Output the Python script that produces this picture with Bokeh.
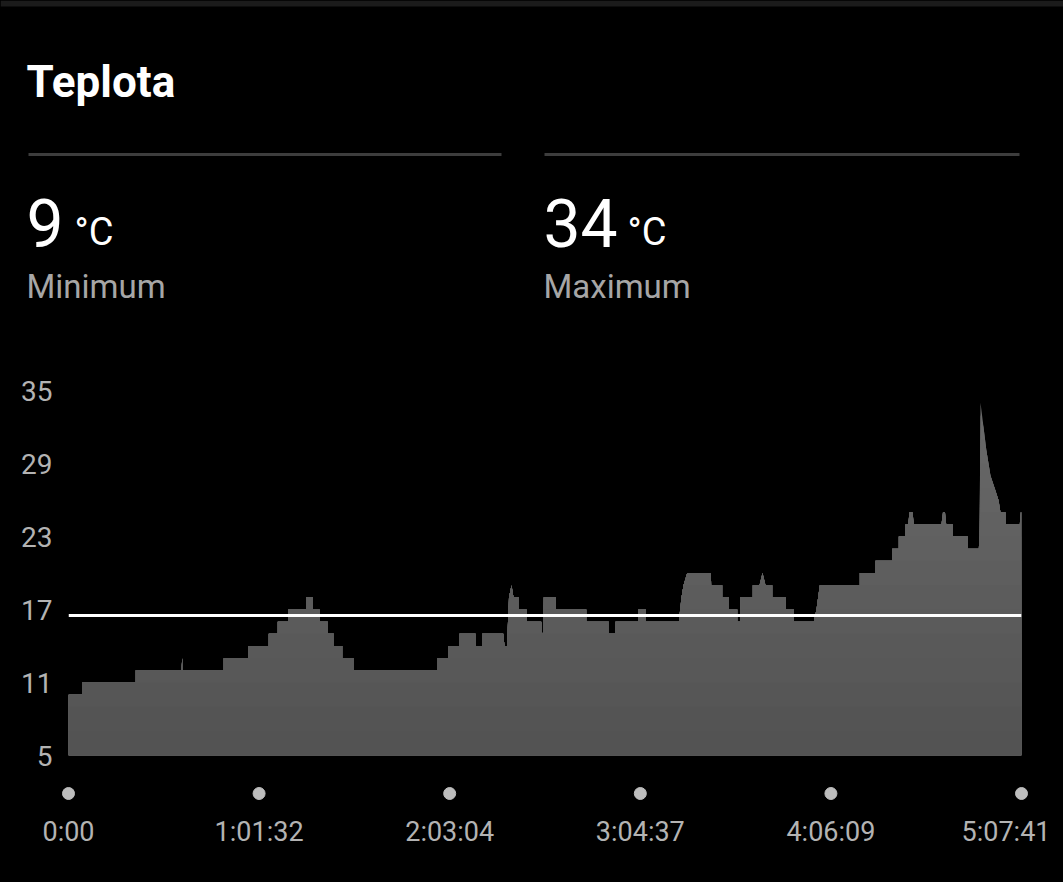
import numpy as np
from bokeh.plotting import figure
from bokeh.models import Range1d, FixedTicker, Span, ColumnDataSource
from bokeh.core.properties import value
from bokeh.embed import file_html
from bokeh.resources import INLINE

# ---------------- data ----------------
title_text = "Teplota"
unit = "°C"
min_temp = 9
max_temp = 34
min_label = "Minimum"
max_label = "Maximum"
avg_temp = 16.5

elapsed_s = [0, 265, 265, 1304, 1304, 2189, 2203, 2218, 3008, 3008, 3481, 3481, 3880, 3880,
             4054, 4054, 4256, 4256, 4605, 4605, 4727, 4727, 4862, 4862, 5023, 5023, 5139, 5139,
             5302, 5302, 5527, 5527, 7142, 7142, 7355, 7355, 7574, 7574, 7884, 7884, 8014, 8014,
             8421, 8446, 8494, 8533, 8582, 8620, 8717, 8717, 8872, 8872, 9157, 9176, 9196, 9207,
             9434, 9434, 10029, 10029, 10466, 10466, 10596, 10596, 11036, 11036, 11183, 11183,
             11823, 11875, 11914, 11985, 12442, 12450, 12663, 12663, 12791, 12791, 12954, 12954,
             13018, 13018, 13256, 13256, 13386, 13444, 13502, 13632, 13632, 13889, 13889, 14050,
             14050, 14438, 14490, 14554, 15329, 15329, 15633, 15633, 15956, 15956, 16084, 16084,
             16214, 16214, 16266, 16292, 16350, 16375, 16911, 16940, 16979, 17002, 17130, 17130,
             17421, 17421, 17634, 17648, 17667, 17725, 17783, 17860, 17938, 18015, 18054, 18151,
             18151, 18428, 18447, 18461]
temp_c = [10, 10, 11, 11, 12, 12, 13, 12, 12, 13, 13, 14, 14, 15,
          15, 16, 16, 17, 17, 18, 18, 17, 17, 16, 16, 15, 15, 14,
          14, 13, 13, 12, 12, 13, 13, 14, 14, 15, 15, 14, 14, 15,
          15, 14, 14, 18, 19, 18, 18, 17, 17, 16, 16, 15, 15, 18,
          18, 17, 17, 16, 16, 15, 15, 16, 16, 17, 17, 16,
          16, 18, 19, 20, 20, 19, 19, 18, 18, 17, 17, 16,
          16, 18, 18, 19, 19, 20, 19, 19, 18, 18, 17, 17,
          16, 16, 17, 19, 19, 20, 20, 21, 21, 22, 22, 23,
          23, 24, 24, 25, 25, 24, 24, 25, 25, 24, 24, 23,
          23, 22, 22, 23, 34, 32, 30, 28, 27, 26, 25, 25,
          24, 24, 25, 25]

y_ticks = [5, 11, 17, 23, 29, 35]
x_tick_s = [0, 3692, 7384, 11077, 14769, 18461]
x_tick_labels = ["0:00", "1:01:32", "2:03:04", "3:04:37", "4:06:09", "5:07:41"]

FONT = value("Roboto")
W = 1063
BG = "#000000"


def bare(fig):
    fig.grid.visible = False
    return fig


# ---------------- header (page y 0..350) ----------------
H1 = 350
hdr = bare(figure(width=W, height=H1, x_range=Range1d(0, W), y_range=Range1d(H1, 0),
                  toolbar_location=None, output_backend="svg", min_border=0,
                  x_axis_location=None, y_axis_location=None,
                  background_fill_color=BG, border_fill_color=BG, outline_line_color=None))

hdr.quad(left=[0], right=[W], top=[0], bottom=[6], fill_color="#1b1b1b", line_color=None)
hdr.text(x=[26], y=[81], text=[title_text], text_font=FONT, text_font_size="44px",
         text_font_style="bold", text_color="#ffffff", text_baseline="alphabetic")
hdr.segment(x0=[28, 544], y0=[154, 154], x1=[501, 1019], y1=[154, 154],
            line_color="#3d3d3d", line_width=3)
hdr.text(x=[26, 543], y=[222, 222], text=[str(min_temp), str(max_temp)], text_font=FONT,
         text_font_size="66px", text_color="#ffffff", text_baseline="alphabetic")
hdr.text(x=[74, 627], y=[231, 231], text=[unit, unit], text_font=FONT,
         text_font_size="38px", text_color="#ffffff", text_baseline="alphabetic")
hdr.text(x=[26, 543], y=[286, 286], text=[min_label, max_label], text_font=FONT,
         text_font_size="33px", text_color="#a6a6a6", text_baseline="alphabetic")

# ---------------- chart (page y 350..781) ----------------
ch = bare(figure(width=W, height=431, x_range=Range1d(0, 18461), y_range=Range1d(5, 35),
                 toolbar_location=None, output_backend="svg", x_axis_location=None,
                 min_border_left=68, min_border_right=42, min_border_top=40, min_border_bottom=26,
                 background_fill_color=BG, border_fill_color=BG, outline_line_color=None))

t = np.array(elapsed_s, dtype=float)
v = np.array(temp_c, dtype=float)
edges = np.arange(5, 36, 2)
for k in reversed(range(len(edges) - 1)):
    top = edges[k + 1]
    mid = 0.5 * (edges[k] + edges[k + 1])
    L = int(round(82 + (mid - 5) * 0.8))
    col = "#%02x%02x%02x" % (L, L, L)
    ch.varea(x=t, y1=np.full_like(v, 5.0), y2=np.minimum(v, top), fill_color=col)

ch.add_layout(Span(location=avg_temp, dimension="width", line_color="#ffffff", line_width=3))

ax = ch.yaxis[0]
ax.ticker = FixedTicker(ticks=y_ticks)
ax.axis_line_color = None
ax.major_tick_line_color = None
ax.minor_tick_line_color = None
ax.major_label_standoff = 10
ax.major_label_text_font = "Roboto"
ax.major_label_text_font_size = "28px"
ax.major_label_text_color = "#b3b3b3"

# ---------------- time axis strip (page y 781..882) ----------------
spp = 18461 / 953.0  # seconds per pixel of the chart frame
ft = bare(figure(width=W, height=101,
                 x_range=Range1d(-68 * spp, 18461 + 42 * spp), y_range=Range1d(101, 0),
                 toolbar_location=None, output_backend="svg", min_border=0,
                 x_axis_location=None, y_axis_location=None,
                 background_fill_color=BG, border_fill_color=BG, outline_line_color=None))

ft.scatter(x=x_tick_s, y=[12] * len(x_tick_s), size=12, color="#bdbdbd")
lab_src = ColumnDataSource(dict(
    x=x_tick_s, y=[50] * len(x_tick_s), text=x_tick_labels,
    align=["center"] * (len(x_tick_s) - 1) + ["right"],
    xo=[0] * (len(x_tick_s) - 1) + [29],
))
ft.text(x="x", y="y", text="text", text_align="align", x_offset="xo", source=lab_src,
        text_font=FONT, text_font_size="27px", text_color="#b3b3b3",
        text_baseline="alphabetic")

html = file_html([hdr, ch, ft], INLINE)
html = html.replace("</head>", "<style>html,body{background:#000000;}</style></head>", 1)
open("out.html", "w").write(html)
